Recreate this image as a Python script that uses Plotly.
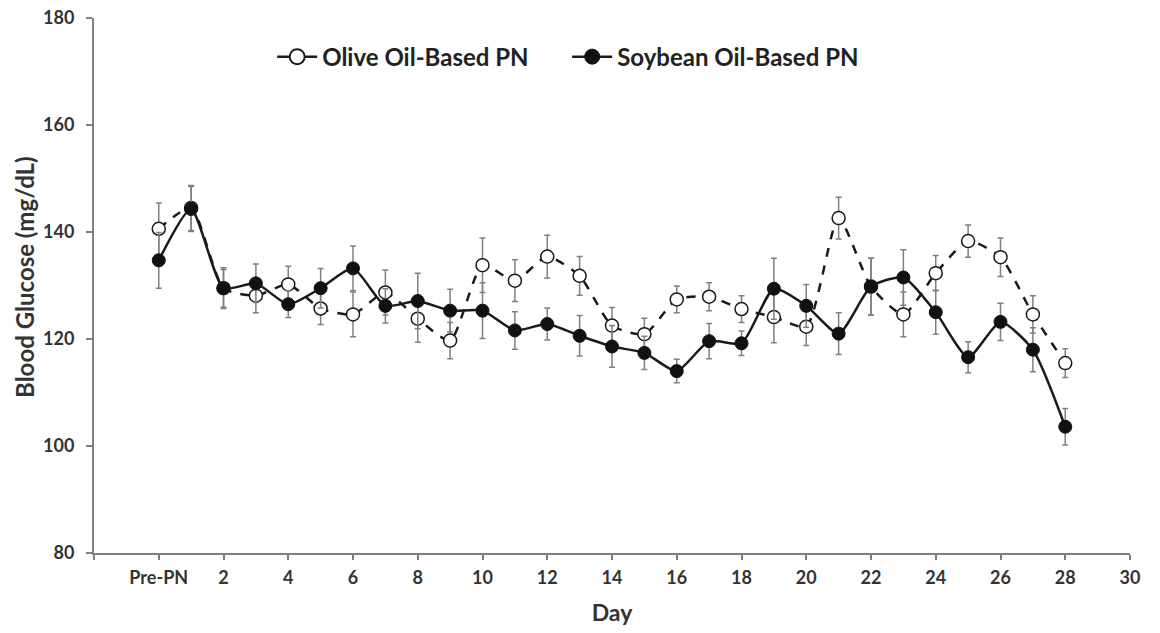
import plotly.graph_objects as go

days = list(range(0, 29))
olive = [140.6, 144.5, 129.5, 128.1, 130.2, 125.7, 124.6, 128.7, 123.8, 119.7,
         133.8, 130.9, 135.4, 131.8, 122.5, 120.9, 127.4, 127.9, 125.6, 124.1,
         122.3, 142.6, 129.8, 124.6, 132.3, 138.3, 135.3, 124.6, 115.5]
olive_se = [4.8, 4.2, 3.8, 3.2, 3.4, 3.0, 4.2, 4.2, 4.4, 3.4,
            5.1, 3.9, 4.0, 3.6, 3.4, 3.0, 2.5, 2.6, 2.5, 4.8,
            3.5, 3.9, 5.3, 4.2, 3.3, 3.0, 3.6, 3.5, 2.7]
soy = [134.7, 144.3, 129.5, 130.4, 126.5, 129.5, 133.2, 126.2, 127.1, 125.3,
       125.3, 121.6, 122.8, 120.6, 118.6, 117.4, 114.0, 119.6, 119.2, 129.4,
       126.2, 121.0, 129.8, 131.5, 125.0, 116.6, 123.2, 118.0, 103.6]
soy_se = [5.2, 4.2, 3.5, 3.6, 2.5, 3.7, 4.2, 3.2, 5.2, 4.0,
          5.2, 3.5, 3.0, 3.8, 3.9, 3.1, 2.2, 3.3, 2.3, 5.7,
          4.0, 3.9, 5.3, 5.2, 4.1, 2.9, 3.5, 4.1, 3.4]

x_tickvals = list(range(-2, 31, 2))
x_ticktext = [""] + ["Pre-PN"] + [str(v) for v in range(2, 31, 2)]
y_tickvals = [80, 100, 120, 140, 160, 180]
y_title = "Blood Glucose (mg/dL)"
x_title = "Day"

FONT = "Lato"
INK = "#1a1a1a"
err_style = dict(type="data", thickness=1.5, width=3, color="#808080")

fig = go.Figure()
fig.add_trace(go.Scatter(
    x=days, y=olive, name="Olive Oil-Based PN", mode="lines+markers", showlegend=False,
    line=dict(color=INK, width=2.5, dash="dash", shape="spline", smoothing=0.6),
    marker=dict(symbol="circle", size=13, color="white", line=dict(color=INK, width=1.5)),
    error_y=dict(array=olive_se, **err_style),
))
fig.add_trace(go.Scatter(
    x=days, y=soy, name="Soybean Oil-Based PN", mode="lines+markers", showlegend=False,
    line=dict(color=INK, width=2.5, shape="spline", smoothing=0.6),
    marker=dict(symbol="circle", size=13, color="#111111", line=dict(color="#111111", width=1)),
    error_y=dict(array=soy_se, **err_style),
))
# legend keys (solid short line + marker, as in the reference)
fig.add_trace(go.Scatter(
    x=[None], y=[None], name="Olive Oil-Based PN", mode="lines+markers",
    line=dict(color=INK, width=2.5),
    marker=dict(symbol="circle", size=15, color="white", line=dict(color=INK, width=2)),
))
fig.add_trace(go.Scatter(
    x=[None], y=[None], name="Soybean Oil-Based PN", mode="lines+markers",
    line=dict(color=INK, width=2.5),
    marker=dict(symbol="circle", size=15, color="#111111", line=dict(color="#111111", width=1)),
))

fig.update_layout(
    width=1160, height=633,
    margin=dict(l=94, r=30, t=18, b=80),
    paper_bgcolor="white", plot_bgcolor="white",
    font=dict(family=FONT, color="#333333"),
    legend=dict(orientation="h", x=0.172, y=0.927, xanchor="left", yanchor="middle",
                font=dict(family=FONT, size=24, color="#222222", weight="bold"),
                bgcolor="rgba(0,0,0,0)", itemwidth=40, entrywidth=240, entrywidthmode="pixels"),
    showlegend=True,
    annotations=[dict(text=y_title, xref="paper", yref="paper", x=-0.0666, y=0.516,
                      xanchor="center", yanchor="middle", textangle=-90, showarrow=False,
                      font=dict(family=FONT, size=24, color="#333333", weight="bold"))],
)
fig.update_xaxes(
    range=[-2, 30], tickmode="array", tickvals=x_tickvals, ticktext=x_ticktext,
    showgrid=False, zeroline=False, showline=True, linecolor="#7f7f7f", linewidth=2,
    ticks="outside", ticklen=5, tickwidth=1.5, tickcolor="#7f7f7f", automargin=False,
    ticklabelstandoff=2, ticklabeloverflow="allow",
    tickfont=dict(family=FONT, size=18, color="#333333", weight="bold"),
    title=dict(text=x_title, font=dict(family=FONT, size=23, color="#333333", weight="bold"), standoff=18),
)
fig.update_yaxes(
    range=[80, 180], tickmode="array", tickvals=y_tickvals,
    showgrid=False, zeroline=False, showline=True, linecolor="#7f7f7f", linewidth=2,
    ticks="outside", ticklen=6, tickwidth=1.5, tickcolor="#7f7f7f", automargin=False,
    ticklabelstandoff=8, ticklabeloverflow="allow",
    tickfont=dict(family=FONT, size=18, color="#333333", weight="bold"),
)

# remove the browser's default 8px page margin so the 1160x633 figure fills the window exactly
fig.write_html("out.html", config={"displayModeBar": False},
               post_script="document.body.style.margin='0';")
